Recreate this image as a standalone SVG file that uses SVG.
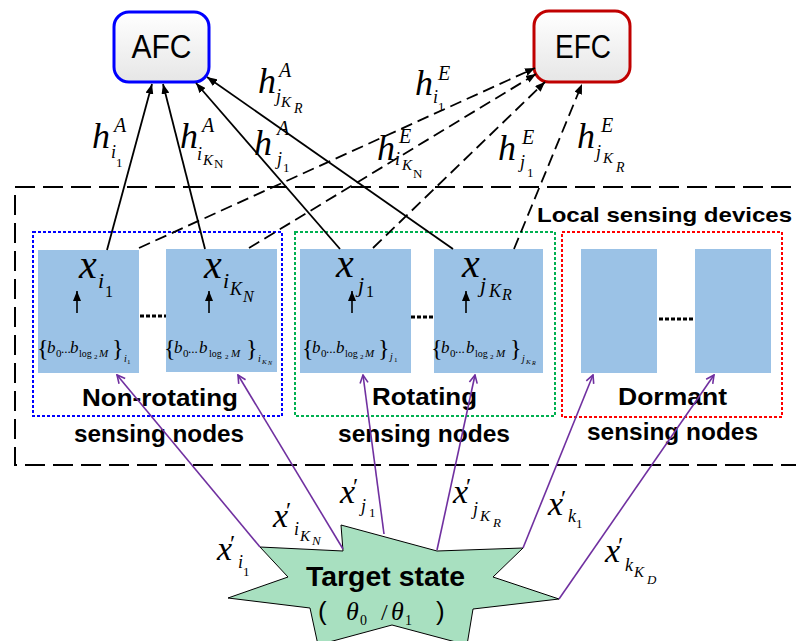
<svg xmlns="http://www.w3.org/2000/svg" width="796" height="641" viewBox="0 0 796 641">
<style>
.m{font-family:'Liberation Serif','DejaVu Serif','Times New Roman',serif;font-style:italic;fill:#000}
.r{font-family:'Liberation Serif','DejaVu Serif','Times New Roman',serif;font-style:normal;fill:#000}
.b{font-family:'Liberation Sans',Arial,sans-serif;font-weight:bold;fill:#000}
.node{fill:#9BC2E6}
.solid{stroke:#000;stroke-width:1.8;fill:none;marker-end:url(#ah)}
.dash{stroke:#000;stroke-width:1.8;fill:none;stroke-dasharray:12 6;marker-end:url(#ah)}
.pur{stroke:#7030A0;stroke-width:1.6;fill:none;marker-end:url(#pa)}
.dots{stroke:#000;stroke-width:3;stroke-dasharray:4 2}
</style>
<defs>
<linearGradient id="gb" x1="0" y1="0" x2="0" y2="1"><stop offset="0" stop-color="#ffffff"/><stop offset="1" stop-color="#e6e6e6"/></linearGradient>
<marker id="ah" viewBox="0 0 10 8" refX="10" refY="4" markerWidth="10" markerHeight="8" markerUnits="userSpaceOnUse" orient="auto"><path d="M0,0L10,4L0,8z" fill="#000"/></marker>
<marker id="pa" viewBox="0 0 10 10" refX="9" refY="5" markerWidth="10" markerHeight="10" markerUnits="userSpaceOnUse" orient="auto"><path d="M1,1L9,5L1,9" fill="none" stroke="#7030A0" stroke-width="1.6"/></marker>
</defs>

<g id="local-devices">
<rect x="15" y="187" width="800" height="278" fill="none" stroke="#000" stroke-width="2" stroke-dasharray="20 8"/>
<text class="b" x="537" y="222" font-size="21" textLength="255" lengthAdjust="spacingAndGlyphs">Local sensing devices</text>
</g>

<g id="group-nonrotating">
<rect x="33" y="232" width="249" height="184" fill="none" stroke="#0000FF" stroke-width="2" stroke-dasharray="3 2"/>
<text class="b" x="82" y="406" font-size="24" textLength="156" lengthAdjust="spacingAndGlyphs">Non-rotating</text>
<text class="b" x="74" y="442" font-size="24" textLength="170" lengthAdjust="spacingAndGlyphs">sensing nodes</text>
</g>
<g id="group-rotating">
<rect x="295" y="232" width="260" height="184" fill="none" stroke="#00B050" stroke-width="2" stroke-dasharray="3 2"/>
<text class="b" x="372" y="405" font-size="24" textLength="105" lengthAdjust="spacingAndGlyphs">Rotating</text>
<text class="b" x="338" y="442" font-size="24" textLength="172" lengthAdjust="spacingAndGlyphs">sensing nodes</text>
</g>
<g id="group-dormant">
<rect x="562" y="232" width="220" height="185" fill="none" stroke="#FF0000" stroke-width="2" stroke-dasharray="3 2"/>
<text class="b" x="618" y="405" font-size="24" textLength="109" lengthAdjust="spacingAndGlyphs">Dormant</text>
<text class="b" x="587" y="440" font-size="24" textLength="171" lengthAdjust="spacingAndGlyphs">sensing nodes</text>
</g>

<g id="AFC">
<rect x="114" y="12" width="95" height="70" rx="15" fill="url(#gb)" stroke="#0000FF" stroke-width="3"/>
<text x="161.5" y="58" font-family="Liberation Sans, Arial, sans-serif" font-size="34" text-anchor="middle" textLength="60" lengthAdjust="spacingAndGlyphs">AFC</text>
</g>
<g id="EFC">
<rect x="534" y="11" width="96" height="71" rx="15" fill="url(#gb)" stroke="#C00000" stroke-width="3"/>
<text x="583" y="58" font-family="Liberation Sans, Arial, sans-serif" font-size="34" text-anchor="middle" textLength="56" lengthAdjust="spacingAndGlyphs">EFC</text>
</g>

<g id="node-i1">
<rect class="node" x="38" y="250" width="101" height="123"/>
<text class="m" x="79" y="278" font-size="40">x</text>
<text class="m" x="98" y="288" font-size="22">i</text>
<text class="r" x="105" y="297" font-size="16">1</text>
<line x1="77" y1="313" x2="77" y2="291" stroke="#000" stroke-width="1.6" marker-end="url(#ah)"/>
<text class="r" x="37" y="356" font-size="24">{</text>
<text class="m" x="47" y="353" font-size="17">b</text>
<text class="r" x="56" y="357" font-size="11">0</text>
<text class="r" x="61" y="353" font-size="13">...</text>
<text class="m" x="70" y="353" font-size="17">b</text>
<text class="r" x="79" y="357" font-size="10">log</text>
<text class="r" x="94" y="359" font-size="7">2</text>
<text class="m" x="99" y="357" font-size="11">M</text>
<text class="r" x="112" y="356" font-size="24">}</text>
<text class="m" x="124" y="362" font-size="10">i</text>
<text class="r" x="127" y="364" font-size="7">1</text>
</g>

<g id="node-iKN">
<rect class="node" x="166" y="249" width="111" height="123"/>
<text class="m" x="204" y="278" font-size="40">x</text>
<text class="m" x="223" y="288" font-size="22">i</text>
<text class="m" x="230" y="295" font-size="18">K</text>
<text class="m" x="243" y="302" font-size="16">N</text>
<line x1="209" y1="313" x2="209" y2="291" stroke="#000" stroke-width="1.6" marker-end="url(#ah)"/>
<text class="r" x="164" y="356" font-size="24">{</text>
<text class="m" x="174" y="353" font-size="17">b</text>
<text class="r" x="183" y="357" font-size="11">0</text>
<text class="r" x="188" y="353" font-size="13">...</text>
<text class="m" x="199" y="353" font-size="17">b</text>
<text class="r" x="209" y="357" font-size="10">log</text>
<text class="r" x="225" y="359" font-size="7">2</text>
<text class="m" x="231" y="357" font-size="11">M</text>
<text class="r" x="246" y="356" font-size="24">}</text>
<text class="m" x="258" y="362" font-size="10">i</text>
<text class="m" x="262" y="364" font-size="7">K</text>
<text class="m" x="268" y="365" font-size="6">N</text>
</g>

<g id="node-j1">
<rect class="node" x="300" y="249" width="111" height="124"/>
<text class="m" x="336" y="277" font-size="40">x</text>
<text class="m" x="358" y="292" font-size="22">j</text>
<text class="r" x="366" y="297" font-size="16">1</text>
<line x1="352" y1="313" x2="352" y2="291" stroke="#000" stroke-width="1.6" marker-end="url(#ah)"/>
<text class="r" x="302" y="356" font-size="24">{</text>
<text class="m" x="312" y="353" font-size="17">b</text>
<text class="r" x="321" y="357" font-size="11">0</text>
<text class="r" x="326" y="353" font-size="13">...</text>
<text class="m" x="336" y="353" font-size="17">b</text>
<text class="r" x="345" y="357" font-size="10">log</text>
<text class="r" x="360" y="359" font-size="7">2</text>
<text class="m" x="365" y="357" font-size="11">M</text>
<text class="r" x="378" y="356" font-size="24">}</text>
<text class="m" x="390" y="360" font-size="10">j</text>
<text class="r" x="394" y="362" font-size="7">1</text>
</g>

<g id="node-jKR">
<rect class="node" x="434" y="249" width="109" height="124"/>
<text class="m" x="462" y="277" font-size="40">x</text>
<text class="m" x="480" y="292" font-size="22">j</text>
<text class="m" x="489" y="297" font-size="18">K</text>
<text class="m" x="502" y="300" font-size="16">R</text>
<line x1="466" y1="313" x2="466" y2="291" stroke="#000" stroke-width="1.6" marker-end="url(#ah)"/>
<text class="r" x="431" y="356" font-size="24">{</text>
<text class="m" x="441" y="353" font-size="17">b</text>
<text class="r" x="450" y="357" font-size="11">0</text>
<text class="r" x="455" y="353" font-size="13">...</text>
<text class="m" x="466" y="353" font-size="17">b</text>
<text class="r" x="475" y="357" font-size="10">log</text>
<text class="r" x="490" y="359" font-size="7">2</text>
<text class="m" x="496" y="357" font-size="11">M</text>
<text class="r" x="510" y="356" font-size="24">}</text>
<text class="m" x="522" y="362" font-size="10">j</text>
<text class="m" x="526" y="364" font-size="7">K</text>
<text class="m" x="532" y="365" font-size="6">R</text>
</g>

<g id="node-k1"><rect class="node" x="581" y="249" width="76" height="124"/></g>
<g id="node-kKD"><rect class="node" x="695" y="249" width="76" height="124"/></g>

<g id="target-state">
<polygon points="260,547 343,551 341,525 437,551 523,548 493,577 559,599 473,609 467,645 392,625 318,645 310,608 228,598 288,577" fill="#A8E0C0" stroke="#000" stroke-width="1"/>
<text class="b" x="306" y="586" font-size="28" textLength="159" lengthAdjust="spacingAndGlyphs">Target state</text>
<text x="318" y="620" font-family="Liberation Sans, Arial, sans-serif" font-size="26">(</text>
<text class="m" x="346" y="620" font-size="26">θ</text>
<text class="r" x="360" y="625" font-size="14">0</text>
<text class="r" x="381" y="620" font-size="24">/</text>
<text class="m" x="391" y="620" font-size="26">θ</text>
<text class="r" x="405" y="625" font-size="14">1</text>
<text x="436" y="620" font-family="Liberation Sans, Arial, sans-serif" font-size="26">)</text>
</g>

<g id="connectors">
<line class="solid" x1="107" y1="250" x2="152" y2="84"/>
<line class="solid" x1="205" y1="249" x2="163" y2="84"/>
<line class="solid" x1="340" y1="249" x2="196" y2="83"/>
<line class="solid" x1="453" y1="249" x2="207" y2="77"/>
<line class="dash" x1="139" y1="248" x2="535" y2="68"/>
<line class="dash" x1="249" y1="248" x2="536" y2="74"/>
<line class="dash" x1="373" y1="248" x2="545" y2="82"/>
<line class="dash" x1="514" y1="249" x2="582" y2="84"/>
<line class="pur" x1="260" y1="547" x2="117" y2="375"/>
<line class="pur" x1="343" y1="549" x2="238" y2="375"/>
<line class="pur" x1="384" y1="534" x2="363" y2="375"/>
<line class="pur" x1="437" y1="550" x2="475" y2="375"/>
<line class="pur" x1="523" y1="548" x2="593" y2="375"/>
<line class="pur" x1="559" y1="599" x2="714" y2="375"/>
<line class="dots" x1="140" y1="316" x2="166" y2="316"/>
<line class="dots" x1="411" y1="317" x2="434" y2="317"/>
<line class="dots" x1="659" y1="319" x2="693" y2="319"/>
</g>

<g id="labels">
<text class="m" x="92" y="148" font-size="36">h</text>
<text class="m" x="114" y="132" font-size="20">A</text>
<text class="m" x="111" y="158" font-size="18">i</text>
<text class="r" x="116" y="167" font-size="13">1</text>

<text class="m" x="180" y="148" font-size="36">h</text>
<text class="m" x="202" y="132" font-size="20">A</text>
<text class="m" x="197" y="160" font-size="18">i</text>
<text class="m" x="203" y="165" font-size="15">K</text>
<text class="r" x="214" y="168" font-size="13">N</text>

<text class="m" x="258" y="93" font-size="36">h</text>
<text class="m" x="279" y="77" font-size="20">A</text>
<text class="m" x="276" y="102" font-size="18">j</text>
<text class="m" x="281" y="107" font-size="15">K</text>
<text class="m" x="294" y="113" font-size="14">R</text>

<text class="m" x="254" y="155" font-size="36">h</text>
<text class="m" x="277" y="135" font-size="20">A</text>
<text class="m" x="277" y="165" font-size="18">j</text>
<text class="r" x="283" y="172" font-size="13">1</text>

<text class="m" x="415" y="95" font-size="36">h</text>
<text class="m" x="438" y="80" font-size="20">E</text>
<text class="m" x="433" y="103" font-size="18">i</text>
<text class="r" x="438" y="111" font-size="13">1</text>

<text class="m" x="377" y="160" font-size="36">h</text>
<text class="m" x="399" y="143" font-size="20">E</text>
<text class="m" x="395" y="165" font-size="18">i</text>
<text class="m" x="402" y="170" font-size="15">K</text>
<text class="r" x="413" y="178" font-size="13">N</text>

<text class="m" x="498" y="160" font-size="36">h</text>
<text class="m" x="522" y="144" font-size="20">E</text>
<text class="m" x="520" y="168" font-size="18">j</text>
<text class="r" x="527" y="177" font-size="13">1</text>

<text class="m" x="577" y="148" font-size="36">h</text>
<text class="m" x="601" y="132" font-size="20">E</text>
<text class="m" x="596" y="158" font-size="18">j</text>
<text class="m" x="603" y="163" font-size="15">K</text>
<text class="m" x="616" y="172" font-size="14">R</text>

<text class="m" x="217" y="560" font-size="34">x<tspan class="r" x="230" y="551" font-size="24">′</tspan><tspan x="238" y="568" font-size="18">i</tspan><tspan class="r" x="243" y="576" font-size="13">1</tspan></text>

<text class="m" x="273" y="527" font-size="34">x<tspan class="r" x="286" y="518" font-size="24">′</tspan><tspan x="294" y="535" font-size="18">i</tspan><tspan x="300" y="541" font-size="15">K</tspan><tspan x="312" y="545" font-size="13">N</tspan></text>

<text class="m" x="340" y="503" font-size="34">x<tspan class="r" x="353" y="494" font-size="24">′</tspan><tspan x="361" y="512" font-size="18">j</tspan><tspan class="r" x="369" y="517" font-size="13">1</tspan></text>

<text class="m" x="453" y="503" font-size="34">x<tspan class="r" x="466" y="494" font-size="24">′</tspan><tspan x="473" y="515" font-size="18">j</tspan><tspan x="480" y="521" font-size="15">K</tspan><tspan x="493" y="527" font-size="13">R</tspan></text>

<text class="m" x="548" y="515" font-size="34">x<tspan class="r" x="561" y="506" font-size="24">′</tspan><tspan x="568" y="522" font-size="18">k</tspan><tspan class="r" x="576" y="528" font-size="13">1</tspan></text>

<text class="m" x="605" y="562" font-size="34">x<tspan class="r" x="618" y="553" font-size="24">′</tspan><tspan x="625" y="571" font-size="18">k</tspan><tspan x="634" y="577" font-size="15">K</tspan><tspan x="647" y="584" font-size="13">D</tspan></text>
</g>
</svg>
